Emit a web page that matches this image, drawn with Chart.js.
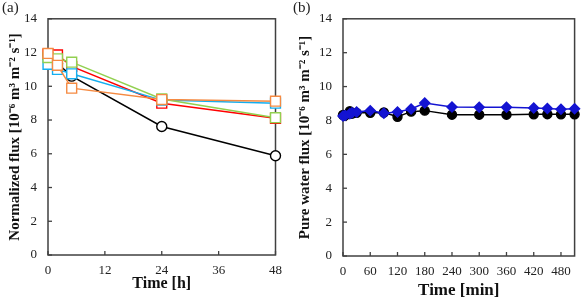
<!DOCTYPE html>
<html>
<head>
<meta charset="utf-8">
<script src="https://cdn.jsdelivr.net/npm/chart.js@4.4.1/dist/chart.umd.min.js"></script>
<style>
	body { margin: 0; background: #fff; }
	.panel { position: absolute; top: 0; height: 302px; }
	.tag { position: absolute; top: -1px; font: 15px "Liberation Serif", serif; color: #222; }
</style>
</head>
<body>
<div class="panel" style="left:0; width:290px;">
	<canvas id="chartA" width="290" height="302"></canvas>
	<div class="tag" style="left:2px;">(a)</div>
</div>
<div class="panel" style="left:290px; width:291px;">
	<canvas id="chartB" width="291" height="302"></canvas>
	<div class="tag" style="left:3px;">(b)</div>
</div>
<script type="text/javascript">
	// (a) normalized flux over time [h]
	var hoursA = [0, 2, 5, 24, 48];
	var fluxBlack = [11.9, 11.35, 10.6, 7.62, 5.88];
	var fluxRed = [11.9, 11.86, 11.18, 9.0, 8.1];
	var fluxCyan = [11.3, 11.0, 10.74, 9.18, 9.0];
	var fluxGreen = [11.7, 11.63, 11.43, 9.25, 8.14];
	var fluxOrange = [11.95, 11.24, 9.89, 9.21, 9.12];
	var ticksA = [0, 12, 24, 36, 48];

	// (b) pure water flux over time [min]
	var minutesB = [0, 5, 15, 20, 30, 60, 90, 120, 150, 180, 240, 300, 360, 420, 450, 480, 510];
	var pureBlack = [8.32, 8.3, 8.55, 8.4, 8.45, 8.45, 8.47, 8.22, 8.52, 8.58, 8.34, 8.34, 8.34, 8.36, 8.37, 8.36, 8.36];
	var pureBlue = [8.26, 8.3, 8.4, 8.45, 8.5, 8.58, 8.43, 8.5, 8.68, 9.03, 8.8, 8.78, 8.78, 8.74, 8.7, 8.66, 8.69];
	var ticksB = [0, 60, 120, 180, 240, 300, 360, 420, 480];

	var serif = '"Liberation Serif", "Times New Roman", serif';
	var axisColor = '#404040';

	// frame + inward tick marks
	var frameTicks = {
		id: 'frameTicks',
		beforeDatasetsDraw: function(chart) {
			var ctx = chart.ctx, a = chart.chartArea;
			var xs = chart.scales.x, ys = chart.scales.y;
			ctx.save();
			ctx.strokeStyle = axisColor;
			ctx.lineWidth = 1.5;
			ctx.strokeRect(a.left, a.top, a.right - a.left, a.bottom - a.top);
			ctx.lineWidth = 1.3;
			xs.ticks.forEach(function(t) {
				var px = xs.getPixelForValue(t.value);
				ctx.beginPath(); ctx.moveTo(px, a.bottom); ctx.lineTo(px, a.bottom - 4); ctx.stroke();
			});
			ys.ticks.forEach(function(t) {
				var py = ys.getPixelForValue(t.value);
				ctx.beginPath(); ctx.moveTo(a.left, py); ctx.lineTo(a.left + 4, py); ctx.stroke();
			});
			ctx.restore();
		}
	};

	function series(data, xs, color, style, fill, radius) {
		return {
			data: xs.map(function(x, i) { return {x: x, y: data[i]}; }),
			borderColor: color,
			borderWidth: 1.5,
			pointStyle: style,
			pointRadius: radius,
			pointBorderWidth: 1.4,
			pointBackgroundColor: fill,
			pointBorderColor: color,
			tension: 0,
			clip: false
		};
	}

	function makeOptions(xMax, xTicks, xTitle, yTitle, yWidth, xHeight, padRight, titleBottom, titleSize) {
		return {
			responsive: false,
			animation: false,
			layout: { padding: { top: 13, right: padRight, left: 0, bottom: 0 } },
			plugins: { legend: { display: false }, tooltip: { enabled: false } },
			scales: {
				x: {
					type: 'linear', min: 0, max: xMax,
					afterBuildTicks: function(s) { s.ticks = xTicks.map(function(v) { return {value: v}; }); },
					afterFit: function(s) { s.height = xHeight; },
					grid: { display: false, drawTicks: false },
					border: { display: false },
					ticks: { padding: 8, color: '#222', font: { family: serif, size: 13 }, maxRotation: 0 },
					title: { display: true, text: xTitle, color: '#111', padding: { top: 0, bottom: titleBottom },
						font: { family: serif, size: titleSize, weight: 'bold' } }
				},
				y: {
					min: 0, max: 14,
					ticks: { stepSize: 2, padding: 11, color: '#222', font: { family: serif, size: 13 } },
					afterFit: function(s) { s.width = yWidth; },
					grid: { display: false, drawTicks: false },
					border: { display: false },
					title: { display: true, text: yTitle, color: '#111', padding: { top: 6, bottom: 0 },
						font: { family: serif, size: 15, weight: 'bold' } }
				}
			}
		};
	}

	new Chart(document.getElementById('chartA').getContext('2d'), {
		type: 'line',
		data: {
			datasets: [
				series(fluxOrange, hoursA, '#F58A42', 'rect', '#fff', 7),
				series(fluxGreen, hoursA, '#92D050', 'rect', '#fff', 7),
				series(fluxCyan, hoursA, '#14AEEF', 'rect', '#fff', 7),
				series(fluxRed, hoursA, '#FF0000', 'rect', '#fff', 7),
				series(fluxBlack, hoursA, '#000000', 'circle', '#fff', 5)
			]
		},
		options: makeOptions(48, ticksA, 'Time [h]', 'Normalized flux [10⁻⁶ m³ m⁻² s⁻¹]', 48, 47, 8, 9, 16),
		plugins: [frameTicks]
	});

	new Chart(document.getElementById('chartB').getContext('2d'), {
		type: 'line',
		data: {
			datasets: [
				series(pureBlue, minutesB, '#1414D2', 'rectRot', '#1414D2', 5),
				series(pureBlack, minutesB, '#000000', 'circle', '#000', 4.5)
			]
		},
		options: makeOptions(510, ticksB, 'Time [min]', 'Pure water flux [10⁻⁶ m³ m⁻² s⁻¹]', 53, 46, 6, 1, 17),
		plugins: [frameTicks]
	});
</script>
</body>
</html>
